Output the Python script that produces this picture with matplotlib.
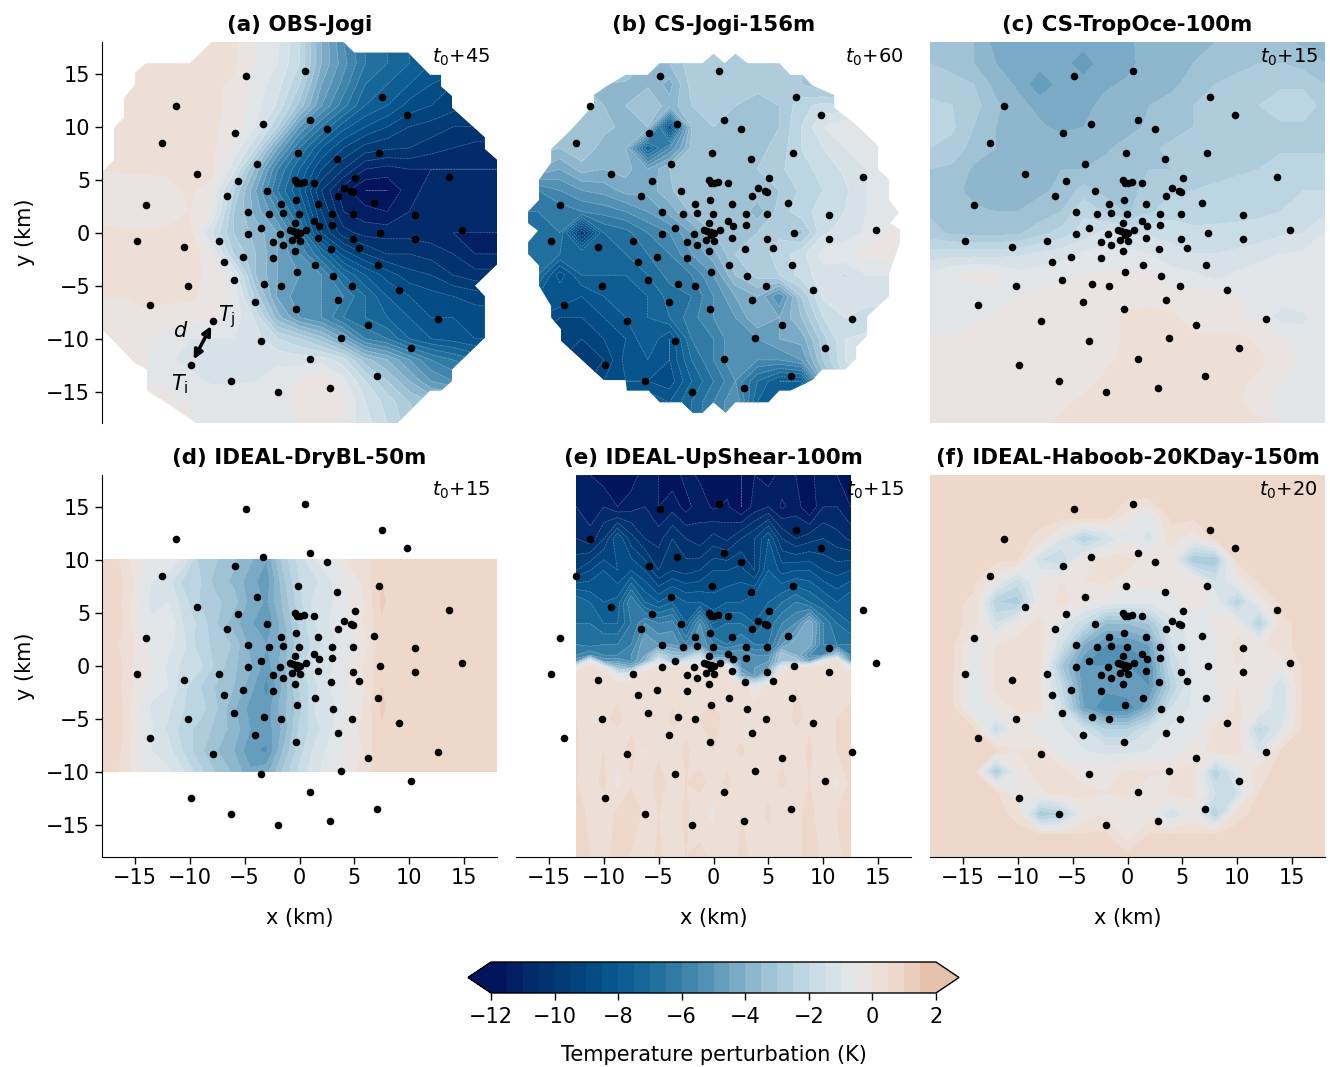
import numpy as np
import matplotlib
matplotlib.use("Agg")
import matplotlib.pyplot as plt
from matplotlib.colors import BoundaryNorm, LinearSegmentedColormap
from matplotlib.cm import ScalarMappable
from matplotlib.patches import Polygon

# surface stations (km)
station_x = [-4.9, 0.5, 7.5, 9.8, -11.3, -3.3, 1.0, 2.5, -5.9, -12.5, -0.1, 3.4, 7.2, -3.9, -9.35, 13.6, 5.1, -5.6,
             -0.4, -0.25, 0.05, 0.4, 1.35, 4.05, 4.7, 4.85, 3.5, -3.0, -6.6, -0.35, 1.65, -1.65, 6.75, -14.0, -4.7,
             -2.75, -1.5, -0.05, 2.95, 4.85, 10.55, 1.3, -0.4, 1.8, 3.0, -3.55, 0.55, -0.85, -0.6, -0.25, 0.0, -0.2,
             -1.8, -4.7, 7.3, 14.8, 1.65, 4.85, 10.55, -0.65, 0.0, -2.45, -7.3, -14.8, -1.5, -10.55, 2.9, 5.45, -0.45,
             -5.15, -2.45, -6.9, 1.45, 7.15, -0.2, 3.05, -5.95, -3.25, -1.65, -10.15, 4.75, 9.1, 3.5, -4.05, -13.65,
             -0.3, 12.6, -7.85, 6.25, 3.75, -3.5, 10.2, 1.0, -9.85, 7.05, -6.2, 2.8, -2.0]
station_y = [14.8, 15.25, 12.8, 11.1, 12.0, 10.3, 10.6, 9.8, 9.4, 8.5, 7.5, 7.0, 7.5, 6.5, 5.5, 5.3, 5.2, 4.9,
             5.0, 4.7, 4.7, 4.75, 4.7, 4.2, 3.9, 3.85, 3.5, 3.9, 3.5, 3.1, 2.7, 2.7, 2.85, 2.6, 2.0,
             1.75, 1.9, 1.75, 1.75, 1.8, 1.65, 1.15, 0.9, 0.65, 0.7, 0.45, 0.3, 0.25, 0.2, 0.1, 0.0, -0.25,
             -0.1, -0.1, 0.0, 0.3, -0.45, -0.55, -0.55, -0.65, -0.8, -0.9, -0.8, -0.75, -1.15, -1.3, -1.5, -1.4, -1.75,
             -2.25, -2.35, -2.75, -3.0, -3.05, -3.7, -4.05, -4.45, -4.8, -5.0, -5.05, -5.05, -5.4, -6.3, -6.55, -6.8,
             -7.15, -8.15, -8.35, -8.7, -9.9, -10.2, -10.85, -11.9, -12.5, -13.5, -14.0, -14.65, -15.05]

titles = ["(a) OBS-Jogi", "(b) CS-Jogi-156m", "(c) CS-TropOce-100m",
          "(d) IDEAL-DryBL-50m", "(e) IDEAL-UpShear-100m", "(f) IDEAL-Haboob-20KDay-150m"]
times = ["+45", "+60", "+15", "+15", "+15", "+20"]

x2 = np.arange(-18, 19, 2)
y2 = np.arange(18, -19, -2)

field_a = np.array([
    [.2, .2, .2, .2, .2, .2, .1, -.5, -.9, -2, -4, -5.5, -6.5, -7, -7.5, -8, -8, -8, -8],
    [.2, .2, .3, .4, .4, .2, .1, -.5, -1, -2, -4, -5.3, -6.5, -7, -7.5, -8, -8, -8, -8],
    [.2, .2, .3, .4, .4, .1, -.1, -.7, -1.3, -2.5, -4.5, -5.7, -7, -7.5, -8, -8.5, -9, -9, -9],
    [.2, .2, .2, .2, .2, .1, -.1, -.8, -1.6, -3.2, -5, -6.3, -7.5, -8, -8.7, -9, -9.3, -9.5, -9.5],
    [.1, .1, .1, .1, .1, .1, -.2, -1, -2.5, -5, -6.5, -7.8, -8.5, -9, -9.5, -9.7, -10, -10, -10],
    [.1, .1, .1, .1, .2, .1, -.6, -2, -4.5, -6.5, -8, -9, -9.7, -9.9, -10, -10.3, -10.5, -10.7, -10.7],
    [0, .1, .1, .1, .4, .2, -1.3, -3.7, -6, -7.5, -9, -10, -11, -11.2, -11, -11, -11, -11, -11],
    [-.1, -.4, -.4, -.2, .1, -.3, -2.5, -4.5, -6.5, -8, -10, -11.3, -12, -12, -11.2, -10.8, -10.7, -10.7, -10.7],
    [-.2, -.5, -.5, -.3, 0, -.5, -3, -4.2, -5.5, -7.3, -9.5, -11, -11.3, -11.5, -11, -10.8, -10.7, -10.7, -10.7],
    [.1, .1, .1, .1, .1, -1.5, -3, -3.7, -4.5, -6.3, -9, -10.3, -10.7, -10.7, -10.7, -10.8, -11, -11, -11],
    [.1, .1, .1, .2, .4, -.5, -2.5, -3.5, -4.5, -5.5, -7, -8.7, -9.5, -10, -10, -10.2, -10.5, -11, -11],
    [.1, .1, .1, .1, .1, -.1, -1, -3.5, -4.5, -5, -5.5, -7, -8, -8.7, -9.3, -9.5, -10, -10.3, -10.3],
    [0, 0, .1, .1, .1, -.2, -.6, -2.7, -4.6, -5.3, -5.5, -6, -7, -8, -8.5, -8.8, -9, -9.2, -9.3],
    [-.2, -.2, -.1, -.2, -.3, -.4, -.7, -1.6, -3.8, -5, -5.5, -6.5, -7, -7.5, -8, -8.5, -8.5, -8.7, -8.7],
    [-.3, -.3, -.4, -.8, -1, -1, -1, -1.3, -2, -2.5, -3.3, -4.5, -6, -6.5, -7.5, -8, -8.2, -8.5, -8.5],
    [-.4, -.4, -.5, -.9, -1.2, -1.4, -1.4, -1.3, -1.1, -1.2, -1.2, -1.8, -3.3, -4, -5, -6, -6.5, -7, -7],
    [-.4, -.4, -.5, -.6, -.8, -1.1, -1.1, -1, -.8, -.4, -.1, -.8, -2, -3, -4, -5, -5.5, -5.5, -5.5],
    [-.4, -.4, -.4, -.4, -.5, -.5, -.6, -.7, -.7, -.3, 0, -.4, -1.5, -2.2, -3, -3.5, -3.5, -3.5, -3.5],
    [-.4, -.4, -.4, -.4, -.5, -.5, -.6, -.7, -.7, -.5, -.3, -.6, -1.3, -2, -2.8, -3.2, -3.2, -3.2, -3.2],
])

field_b = np.array([
    [-3, -3, -3, -3, -3, -3, -3, -3, -3, -3, -3, -3, -3, -3, -3, -3, -3, -3, -3],
    [-3, -3, -3, -3, -3, -3, -3.5, -3.5, -2.7, -2.6, -2.6, -2.6, -2.8, -3, -3, -3, -3, -3, -3],
    [-3.5, -3.5, -3.5, -3.5, -3.5, -3.6, -3.6, -4.2, -2.8, -2.6, -2.7, -2.7, -2.8, -3, -3.5, -3.5, -3, -3, -3],
    [-3, -3, -3, -3, -3.5, -3.5, -3, -3.8, -3, -2.8, -3, -3.4, -3, -2.2, -1.8, -2, -2, -2, -2],
    [-3, -3, -3, -3.3, -3.3, -3.7, -3.5, -9, -3.5, -3, -3, -3.5, -3, -2, -1, -.5, -1, -1.2, -1.2],
    [-3.3, -3.3, -3.5, -3, -3.8, -4, -7.5, -5.5, -3.4, -3.2, -3.2, -3.2, -2.8, -2, -1.5, -1, -.9, -.9, -.9],
    [-4, -4, -4.5, -3.8, -4, -3.8, -4.5, -3.5, -3.2, -3.3, -3.3, -3, -2.6, -2.2, -1.8, -1.4, -1, -.7, -.5],
    [-6, -6, -5.5, -5, -4.8, -4.3, -4.3, -3.6, -3, -3.2, -3.2, -3.2, -3, -2.4, -2, -1.6, -1, -.6, -.2],
    [-6.5, -6.5, -6.3, -6, -5.8, -5.5, -5, -4.3, -3.4, -3, -3, -3.8, -2.8, -2.2, -1.8, -1.5, -1, -.7, -.5],
    [-6.5, -6.5, -6.5, -10, -7, -6.7, -6, -5.5, -4.5, -3.5, -3, -3, -2.6, -3.2, -1.6, -1.3, -.9, -.4, -.2],
    [-6.5, -6.5, -7, -7, -7.3, -7, -6.5, -6, -5, -4.2, -3, -2.8, -2.3, -1.7, -.8, -.6, -.3, -.3, -.3],
    [-7, -7, -8.8, -7.5, -7.5, -7.5, -7, -6.3, -6, -5, -3.5, -2.8, -2.5, -1.8, -1.2, -1.6, -1, -1, -1],
    [-8, -8, -8, -8.5, -8, -7.5, -7.5, -6.8, -6.5, -5.5, -4.5, -4, -5.5, -3, -1.4, -1, -1, -1, -1],
    [-8.5, -8.5, -9, -9, -8.5, -8, -7.5, -7, -6.2, -5.5, -5, -4, -4.5, -3.5, -2, -1.5, -2, -2, -2],
    [-9, -9, -9.3, -9.5, -9, -8.5, -7.5, -8.5, -6.5, -6, -5, -5, -4.5, -4.3, -2.7, -1.5, -1.3, -1.3, -1.3],
    [-9.5, -9.5, -9.5, -9.8, -9.5, -8.3, -8, -8.5, -7, -6, -5, -5.5, -5.5, -5, -3, -1.5, -1.2, -1.2, -1.2],
    [-9.5, -9.5, -9.5, -9.7, -9, -8.5, -8.5, -8.8, -7.5, -6.5, -5.5, -7, -8, -8, -4, -2, -1.5, -1.5, -1.5],
    [-8.8, -8.8, -8.8, -9, -8.5, -8, -7.5, -8, -7, -6, -5, -7.5, -7.5, -5, -3, -2, -2, -2, -2],
    [-8.8, -8.8, -8.8, -9, -8.5, -8, -7.5, -8, -7, -6, -5, -7.5, -7.5, -5, -3, -2, -2, -2, -2],
])

field_c = np.array([
    [-3.2, -3.4, -3.5, -4.2, -4.2, -4.2, -4.3, -4.3, -4.2, -4.2, -3.6, -3.5, -3.5, -3.5, -3.1, -3, -3.4, -3.6, -3.8],
    [-3.0, -3.2, -3.5, -4.0, -4.2, -4.3, -4.3, -4.8, -4.2, -4.2, -3.7, -3.6, -3.5, -3.4, -3.1, -3, -3, -3.2, -3.5],
    [-2.7, -2.8, -3.0, -3.7, -4.1, -4.9, -4.3, -4.3, -4.1, -3.9, -3.6, -3.7, -3.2, -3, -2.9, -2.7, -2.6, -2.6, -3],
    [-2.4, -2.5, -2.8, -3.4, -3.8, -4.2, -4.3, -4.2, -3.8, -3.6, -3.5, -3.2, -3, -2.8, -2.7, -2.5, -2.2, -2.2, -2.7],
    [-2.3, -2.4, -3.0, -3.5, -3.6, -3.9, -4.2, -4, -3.8, -3.7, -3.4, -3.2, -3, -2.6, -2.6, -2.6, -2.6, -2.6, -2.6],
    [-2.5, -2.7, -3.2, -3.5, -3.6, -3.6, -3.5, -3.5, -3.6, -3.3, -3.1, -2.9, -2.9, -2.9, -2.6, -2.6, -2.6, -2.6, -2.6],
    [-3, -3.1, -3.6, -3.6, -3.6, -3.6, -3.5, -3.5, -3.3, -3.2, -3.0, -3.0, -2.9, -2.7, -2.6, -2.5, -2.2, -2.2, -2.2],
    [-3, -3.3, -3.7, -3.7, -3.6, -3.6, -3.4, -2.8, -3.2, -3.2, -2.8, -2.6, -2.5, -2.4, -2.3, -2.2, -2, -2, -2],
    [-3.1, -3.3, -3.4, -3.5, -3.5, -3.3, -3, -2.1, -2.6, -3.1, -2.6, -2.2, -2.4, -2.3, -2.2, -2.1, -2, -1.8, -1.6],
    [-2.8, -3.1, -3.2, -3.2, -3.1, -2.7, -2.3, -1.8, -1.3, -1.6, -1.6, -1.7, -1.8, -1.8, -1.8, -1.8, -1.6, -1.5, -1],
    [-1.8, -1.7, -1.7, -1.7, -1.6, -1.4, -1.2, -.9, -.8, -.8, -1, -1.3, -1.5, -1.5, -1.4, -1.2, -1, -.9, -.8],
    [-.9, -.5, -.3, -.4, -.8, -.7, -.6, -.5, -.4, -.4, -.5, -.8, -.9, -1.2, -.9, -.7, -.6, -.7, -.7],
    [-.8, -.8, -.9, -.7, -.5, -.4, -.3, -.3, -.3, -.2, -.1, -.3, -.3, -.3, -.5, -.8, -.8, -.7, -.7],
    [-.9, -.9, -.6, -.4, -.4, -.3, -.3, -.3, -.2, .1, .1, .1, -.2, -.3, -.3, -.7, -1.2, -1.1, -.7],
    [-.4, -.4, -.3, -.3, -.3, -.3, -.3, -.3, -.1, .05, .1, .1, .1, .1, .1, -.1, -.4, -.8, -.6],
    [-.3, -.3, -.3, -.3, -.3, -.3, -.3, -.3, -.1, .1, .1, .1, .1, .1, .1, .1, -.3, -.6, -.6],
    [-.3, -.3, -.3, -.3, -.3, -.3, -.3, -.2, .1, .1, .1, .1, .1, .1, .1, -.1, -.5, -.6, -.7],
    [-.3, -.3, -.3, -.3, -.3, -.3, -.1, .1, .1, .1, .1, .1, .1, .1, .1, -.4, -.6, -.7, -.7],
    [-.3, -.3, -.3, -.3, -.3, -.1, .1, .1, .1, .1, .1, .1, .1, .1, .1, .1, -.6, -.7, -.7],
])

x_d = np.arange(-18, 18.1, 1.5)
y_d = np.arange(10, -10.1, -2)
field_d = np.array([
    [.8, .5, -.3, -.7, -.6, -1.2, -2.8, -3, -3.4, -3.9, -4.5, -2.8, -1.8, -1, -.8, .1, .3, .9, .6, .5, .6, .6, .5, .6, .6],
    [.9, .7, -.1, -1, -1.3, -2.2, -2.5, -3.3, -3.6, -4.3, -4.8, -3.2, -2, -1.6, -1, -.4, .2, 1, .6, .6, .5, .7, .6, .5, .6],
    [.8, .6, -.2, -1.2, -1, -1.8, -2.6, -2.9, -3.3, -4.2, -4.6, -3.4, -2.2, -1.2, -1, -.5, 0, 1.1, .6, .5, .7, .5, .6, .6, .5],
    [.9, .8, -.3, -.9, -.5, -1.6, -2.2, -3, -3.8, -4.4, -5, -3.7, -2.4, -1.5, -.9, -.6, .1, .9, .6, .7, .5, .6, .5, .7, .6],
    [.7, .5, 0, -.7, -.8, -1.4, -2.4, -2.6, -3.1, -4.2, -4.5, -3.9, -2.6, -1.7, -1.2, -.7, -.2, .8, .5, .6, .6, .5, .6, .6, .7],
    [.8, .7, -.2, -.5, -1.1, -1.7, -1.9, -2.7, -3.4, -3.9, -4.8, -3.8, -2.3, -1.3, -1, -.4, .1, .9, .6, .6, .7, .6, .5, .6, .5],
    [.9, .6, -.1, -.8, -1, -1.9, -2.5, -3.1, -3.5, -4.3, -5.2, -3.9, -2.5, -1.6, -.9, -.5, 0, 1, .6, .7, .5, .6, .6, .7, .6],
    [.8, .7, -.3, -1.1, -1.4, -2, -2.3, -3, -3.9, -4.7, -4.8, -3.7, -2.7, -1.4, -1.1, -.6, .1, 1.1, .6, .5, .6, .6, .7, .5, .6],
    [1, .8, -.2, -.9, -1.6, -2.3, -2.7, -3.2, -3.7, -4.5, -4.8, -3.9, -2.4, -1.7, -1, -.3, .2, .9, .5, .6, .6, .7, .5, .6, .6],
    [.9, .6, -.4, -1, -1.3, -2.1, -2.9, -3.5, -4, -4.9, -5.1, -3.5, -2.2, -1.3, -.8, -.4, .1, 1, .7, .6, .6, .5, .6, .6, .7],
    [.7, .5, -.2, -.7, -.9, -1.5, -2.4, -3.1, -3.6, -4.4, -4.2, -2.9, -1.9, -1.1, -.7, -.2, .3, .8, .6, .6, .5, .6, .6, .5, .6],
])

x_e = np.arange(-12.5, 12.6, 1.25)
y_e = [18, 15, 12, 9, 6, 4, 2, 1, .4, -.2, -1, -2, -5, -8, -11, -14, -18]
field_e = np.array([
    [-11.5, -11.5, -11.8, -11.5, -11.8, -11.2, -11.5, -11.8, -11.3, -11.6, -11.5, -11.8, -12, -11.5, -11.8, -11.2, -11.5, -11.6, -11.3, -11.5, -11.8],
    [-11, -11.3, -11, -11.5, -11.2, -11, -11.5, -11.2, -11.7, -11.2, -11.6, -11.4, -12, -11.3, -11, -11.6, -11.2, -12, -11, -11, -11.5],
    [-10.5, -10.8, -10, -8.5, -9.8, -10.5, -10.7, -10, -10.5, -10.8, -10.3, -10.6, -10, -9.5, -8.5, -10, -10.5, -10.2, -10, -10.3, -10.6],
    [-9.5, -9, -8.5, -9, -8.5, -9, -10, -9.5, -9.7, -9.5, -9, -9, -8.8, -9.5, -8, -8.7, -8.5, -8.5, -9, -9.2, -9],
    [-7, -7.5, -8, -7.8, -6, -7.5, -8, -7.5, -8, -8, -8.3, -8, -8, -7.5, -7.5, -7, -6.5, -7, -7.5, -8, -7.5],
    [-7, -7, -7.5, -7.5, -6.5, -5.5, -6, -5.8, -7.5, -5.5, -7.5, -7, -7, -7.5, -6.8, -6, -5.5, -4, -6, -7, -7.5],
    [-6.5, -6.7, -6.5, -6.5, -6, -4.5, -5, -5, -6, -5, -6, -6.5, -6, -6.5, -6.5, -5, -4, -4.2, -6, -6.5, -6.5],
    [-6, -5.5, -6, -6, -5.5, -4.5, -2.5, -3.5, -3.5, -2, -5, -5, -5, -5.5, -5.5, -3, -4, -5.5, -5.5, -3, -6],
    [-5, -.5, -5, -5, -5.5, -4, -1, -3, -1.5, -1, -3.5, -3.5, -5, -5.3, -5, -3, -3, -4.5, -1, .5, -5],
    [-.5, .4, -.5, -3.5, -4, -.5, .4, .3, .4, .4, .5, .2, -5, -5, -4.5, -.5, .4, .3, .4, .4, -.5],
    [.4, .4, .4, -.5, -.3, .4, .4, .5, .4, .3, .5, .4, -4, -5, -3, .4, .4, .3, .5, .4, .4],
    [.5, .3, .4, .4, .3, .5, .4, .3, .5, .4, .3, .4, .3, -.5, .3, .4, .5, .3, .4, .3, .4],
    [.5, .2, .4, .6, .3, .5, .2, .6, .3, .5, .7, .3, .2, .5, .3, .2, .6, .4, .3, .5, .6],
    [.6, .1, .5, .2, .7, -.1, .4, .1, .6, .2, .5, .3, .6, .2, .5, .4, .2, .6, .1, .5, .7],
    [.5, .3, .6, -.2, .4, .2, .7, .3, .5, .7, .2, .6, .1, .5, .3, .6, .3, .5, .2, -.2, .6],
    [.7, .4, .2, .6, 1, .3, .5, .2, .6, .1, -.1, .4, .5, .2, .6, .1, .4, .6, .3, .5, .8],
    [.8, .5, .3, .7, .4, .2, .6, .1, .5, .7, .3, .1, .6, .4, .2, .5, .3, .7, .4, .3, .9],
])

field_f = np.array([
    [.6, .6, .6, .6, .6, .6, .6, .6, .6, .6, .6, .6, .6, .6, .6, .6, .6, .6, .6],
    [.6, .6, .6, .6, .6, .6, .6, .6, .6, .6, .6, .6, .6, .6, .6, .6, .6, .6, .6],
    [.6, .6, .6, .6, .6, .6, .6, .6, .6, -.3, -.8, .6, .6, .6, .6, .6, .6, .6, .6],
    [.6, .6, .6, .6, .6, .4, -1, -2.5, -1.5, -.6, -1.2, .3, -.5, .6, .6, .6, .6, .6, .6],
    [.6, .6, .6, .6, .5, -1.5, -2, -.2, .2, .3, -.3, -.5, -3, -3, .6, .6, .6, .6, .6],
    [.6, .6, .6, -.5, -1.8, -.4, 0, 0, .1, -.3, -.3, -.3, -.1, -1.5, -.4, .6, .6, .6, .6],
    [.6, .6, .4, -2.5, -2.8, -.5, .2, -.3, -.7, -.9, -.9, -.7, -.2, -.6, -2.5, -.4, .6, .6, .6],
    [.6, .6, .4, -1.5, -.3, .2, -1, -1.8, -3.5, -3.5, -3, -1.2, -.8, -.4, -.3, -2.6, .4, .6, .6],
    [.6, .6, -.8, 0, .2, .3, -1.5, -4, -5, -5, -4.5, -1.5, -.8, -.6, .2, -.2, .4, .6, .6],
    [.6, .6, -.8, .1, .1, .2, -3, -5, -5, -5, -5, -2, -.8, -.5, 0, 0, -.5, .6, .6],
    [.6, .5, -1, .1, .1, 0, -2, -4.8, -4.8, -4.5, -5, -2.5, -.9, -.6, 0, -.2, -1.5, .6, .6],
    [.6, .6, -1, -.3, .1, .1, -1.5, -4.5, -5.5, -5.5, -4, -1.5, -.9, -.6, .1, -.5, -1.5, .6, .6],
    [.6, .6, .6, -1.8, -.3, -.8, -.9, -1.5, -2.5, -2.5, -1.5, -.9, -.7, .1, .2, -2.2, -1, .6, .6],
    [.6, .6, .6, .6, 0, .2, -.9, -1, -1.2, -1.2, -1, -.8, -.3, .2, .2, -1.2, .5, .6, .6],
    [.6, .6, .6, -3, -.3, .2, .2, -.3, -.3, .1, .1, 0, .2, -2.5, -.8, .4, .6, .6, .6],
    [.6, .6, .6, .6, -.5, -.1, .2, .2, 0, .1, -.4, .1, .2, -1.5, -1.5, .5, .6, .6, .6],
    [.6, .6, .6, .6, .4, -3, -2.5, -.5, 0, -.4, -.5, -1.5, -.5, -2.5, .4, .6, .6, .6, .6],
    [.6, .6, .6, .6, .6, .6, .6, .6, .6, -.3, .6, .6, .6, .6, .6, .6, .6, .6, .6],
    [.6, .6, .6, .6, .6, .6, .6, .6, .6, .6, .6, .6, .6, .6, .6, .6, .6, .6, .6],
])

# edges of the gridded observations / sampled model domain
outline_a = [(-8, 18), (4, 18), (5, 17), (9.9, 17), (11.9, 14.9), (12.9, 14.9), (12.9, 13.8), (13.9, 12.9), (13.9, 11.8),
             (16.9, 9), (16.9, 7.9), (18, 6.9), (18, -3), (16, -5), (16.9, -6), (16.9, -9.9), (13.9, -12.9), (13.9, -14),
             (12.9, -14.9), (11.9, -14.9), (8.9, -18), (-9.35, -18), (-12.2, -16), (-13.9, -14.9), (-13.9, -12.9),
             (-15, -12.3), (-18, -9.1), (-18, 5.7), (-16.9, 6.9), (-16.9, 9.9), (-16, 10.9), (-16, 12.7), (-15, 14),
             (-15, 15.1), (-14, 16), (-10, 16)]
outline_b = [(0, 16.9), (-1, 16), (-4.9, 16), (-6, 14.9), (-8, 14.9), (-9.8, 13.8), (-10.9, 13), (-10.9, 12.1), (-13, 9.7),
             (-14.8, 7.9), (-14.8, 6.6), (-15.9, 5), (-15.9, 3.1), (-16.9, 2), (-16.9, .9), (-16, .2), (-16.9, -.9),
             (-16.9, -2), (-15.9, -3.1), (-15.9, -5), (-14.8, -6.9), (-14.8, -8), (-13.9, -9.1), (-13.9, -10.2),
             (-10, -13.9), (-8, -13.9), (-7.9, -14.9), (-5.9, -14.9), (-4.9, -16), (-2.9, -16), (-1.9, -17), (-1, -17),
             (0, -16), (1.1, -17), (2, -16), (5, -16), (6, -14.9), (7, -14.9), (9, -13.9), (9.9, -12.9), (12, -12.9),
             (13, -11.9), (13, -10.8), (14, -9.7), (14, -7.9), (16, -6), (16, -3.9), (17, -.9), (17, .3), (16.1, .9),
             (16.9, 1.9), (16, 3.1), (16, 5), (15, 6), (15, 8.2), (13, 10.2), (11, 11.8), (11, 13), (9, 13.9), (8.1, 14.9),
             (7, 14.9), (6, 16), (3.1, 16), (2, 16.9), (1, 16)]

levels = np.arange(-12, 2.5, 0.5)
ticks = [-15, -10, -5, 0, 5, 10, 15]
cb_ticks = [-12, -10, -8, -6, -4, -2, 0, 2]

anchors = [(-12, "#02145c"), (-11, "#032a6b"), (-10, "#033a73"), (-9, "#034a82"), (-8, "#0b5a92"), (-7, "#1c6c9a"),
           (-6, "#3a80a9"), (-5, "#5b97b8"), (-4, "#84b0ca"), (-3, "#a5c6d8"), (-2, "#c0d8e4"), (-1, "#dae3e8"),
           (-.25, "#e6e6e6"), (.25, "#eee1da"), (1, "#eed8cb"), (2, "#e5c1ab")]
cmap = LinearSegmentedColormap.from_list("temp", [((v + 12) / 14, c) for v, c in anchors], N=28)
cmap.set_under("#02145c")
cmap.set_over("#e5c1ab")
norm = BoundaryNorm(levels, 28)

plt.rcParams['font.family'] = 'DejaVu Sans'
plt.rcParams['font.size'] = 15
plt.rcParams['mathtext.fontset'] = 'dejavusans'

W, H = 1330, 1067
fig = plt.figure(figsize=(W / 100, H / 100), dpi=100)

lefts = [102, 516, 930]
tops = [42, 475]
axes = []
for r in range(2):
    for c in range(3):
        axes.append(fig.add_axes([lefts[c] / W, 1 - (tops[r] + 381.5) / H, 395 / W, 381.5 / H]))

grids = [(x2, y2, field_a), (x2, y2, field_b), (x2, y2, field_c),
         (x_d, y_d, field_d), (x_e, y_e, field_e), (x2, y2, field_f)]

for i, ax in enumerate(axes):
    gx, gy, gz = grids[i]
    cs = ax.contourf(gx, gy, gz, levels=levels, cmap=cmap, norm=norm, extend='both', zorder=1)
    if i in (0, 1, 4):
        lines = ax.contour(gx, gy, gz, levels=levels[levels < -1], colors='white', linewidths=0.4, alpha=0.35, zorder=2)
    if i in (0, 1):
        clip = Polygon(outline_a if i == 0 else outline_b, closed=True, transform=ax.transData, fc='none', ec='none')
        ax.add_patch(clip)
        cs.set_clip_path(clip)
        lines.set_clip_path(clip)
    ax.scatter(station_x, station_y, s=30, c='k', linewidths=0, zorder=4)
    ax.set_xlim(-18, 18)
    ax.set_ylim(-18, 18)
    ax.set_xticks(ticks)
    ax.set_yticks(ticks)
    ax.tick_params(length=5, width=1, labelsize=15)
    ax.set_title(titles[i], fontsize=15.4, fontweight='bold', pad=8)
    ax.text(0.982, 0.988, "$t_0$" + times[i], transform=ax.transAxes, ha='right', va='top', fontsize=14, zorder=5)
    for s in ['top', 'right']:
        ax.spines[s].set_visible(False)
    if i % 3 == 0:
        ax.set_ylabel("y (km)", fontsize=15, labelpad=8)
    else:
        ax.spines['left'].set_visible(False)
        ax.tick_params(left=False, labelleft=False)
    if i >= 3:
        ax.set_xlabel("x (km)", fontsize=15, labelpad=14)
    else:
        ax.spines['bottom'].set_visible(False)
        ax.tick_params(bottom=False, labelbottom=False)

# station pair sketch in panel a
ax = axes[0]
ax.annotate("", xy=(-8.05, -8.8), xytext=(-9.65, -11.95), zorder=5,
            arrowprops=dict(arrowstyle='<|-|>', color='k', lw=2.5, mutation_scale=13, shrinkA=0, shrinkB=0))
ax.text(-10.8, -9.3, "$d$", fontsize=15, ha='center', va='center', zorder=5)
ax.text(-6.6, -7.9, "$T_{\\mathrm{j}}$", fontsize=15, ha='center', va='center', zorder=5)
ax.text(-10.9, -14.3, "$T_{\\mathrm{i}}$", fontsize=15, ha='center', va='center', zorder=5)

cax = fig.add_axes([468 / W, 1 - 993 / H, 491 / W, 31 / H])
sm = ScalarMappable(norm=norm, cmap=cmap)
cb = fig.colorbar(sm, cax=cax, orientation='horizontal', extend='both', extendfrac=0.0517, ticks=cb_ticks, spacing='proportional')
cb.ax.tick_params(length=5, width=1, labelsize=15, pad=5)
cb.minorticks_off()
cb.outline.set_linewidth(1)
cb.set_label("Temperature perturbation (K)", fontsize=15, labelpad=13)

fig.savefig("out.png", dpi=100)
